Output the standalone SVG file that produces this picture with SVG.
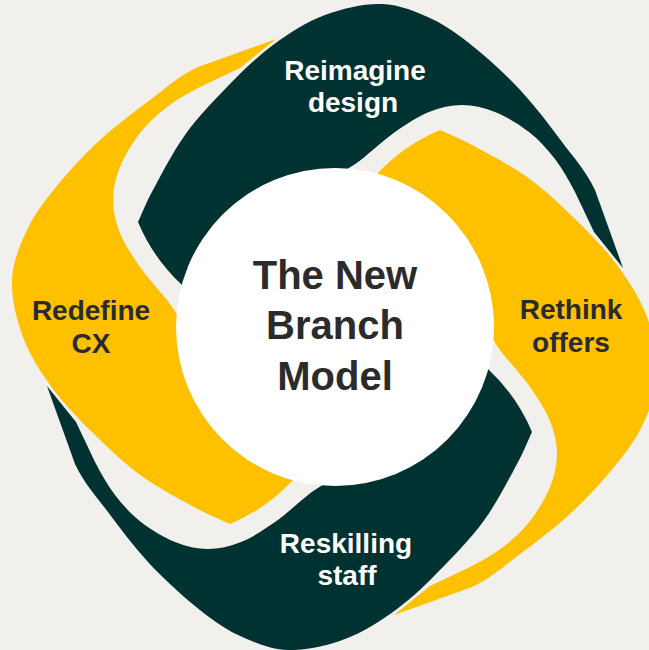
<svg xmlns="http://www.w3.org/2000/svg" xmlns:xlink="http://www.w3.org/1999/xlink" width="649" height="650" viewBox="0 0 649 650">
  <style>
    .dark { fill: #003232; }
    .yellow { fill: #FFC000; }
    .lbl { font-family: "Liberation Sans", Arial, sans-serif; font-weight: 700; font-size: 28px; text-anchor: middle; }
    .lbl-light { fill: #FFFFFF; }
    .lbl-dark { fill: #2B2B2B; }
    .title { font-family: "Liberation Sans", Arial, sans-serif; font-weight: 700; font-size: 40px; text-anchor: middle; fill: #2B2B2B; }
  </style>
  <defs>
    <path id="petal" d="M138,222 C143,211.3 145.2,204.5 153,190 C160.8,175.5 172.7,152.2 185,135 C197.3,117.8 212.3,102 227,87 C241.7,72 256.7,57 273,45 C289.3,33 306.8,21.8 325,15 C343.2,8.2 364.2,3.3 382,4 C399.8,4.7 416.5,11.7 432,19 C447.5,26.3 460,35.8 475,48 C490,60.2 507.5,76.3 522,92 C536.5,107.7 549.8,125.7 562,142 C574.2,158.3 584.8,169 595,190 L623,268 L594,232 L575,192 C568.5,179.8 562.7,169 555,159 C547.3,149 539,139.8 529,132 C519,124.2 506.2,116.5 495,112 C483.8,107.5 473,105 462,105 C451,105 440.2,107.5 429,112 C417.8,116.5 406.2,124.2 395,132 C383.8,139.8 369.7,153 362,159 C354.3,165 353.3,165 349,168 L182,285 Q153,258 138,222 Z"/>
  </defs>
  <rect width="649" height="650" fill="#F1F0EC"/>
  <g id="node-reimagine-design">
    <use xlink:href="#petal" href="#petal" class="dark"/>
    <text class="lbl lbl-light" x="355" y="80">Reimagine</text>
    <text class="lbl lbl-light" x="353" y="112">design</text>
  </g>
  <g id="node-rethink-offers">
    <use xlink:href="#petal" href="#petal" class="yellow" transform="rotate(90 335 327)"/>
    <text class="lbl lbl-dark" x="571" y="319">Rethink</text>
    <text class="lbl lbl-dark" x="571" y="352">offers</text>
  </g>
  <g id="node-reskilling-staff">
    <use xlink:href="#petal" href="#petal" class="dark" transform="rotate(180 335 327)"/>
    <text class="lbl lbl-light" x="346" y="553">Reskilling</text>
    <text class="lbl lbl-light" x="347" y="585">staff</text>
  </g>
  <g id="node-redefine-cx">
    <use xlink:href="#petal" href="#petal" class="yellow" transform="rotate(270 335 327)"/>
    <text class="lbl lbl-dark" x="91" y="320">Redefine</text>
    <text class="lbl lbl-dark" x="91" y="353">CX</text>
  </g>
  <g id="connectors"/>
  <g id="node-center">
    <circle cx="335" cy="327" r="159" fill="#FFFFFF"/>
    <text class="title" x="335" y="289">The New</text>
    <text class="title" x="335" y="339">Branch</text>
    <text class="title" x="335" y="390">Model</text>
  </g>
</svg>
